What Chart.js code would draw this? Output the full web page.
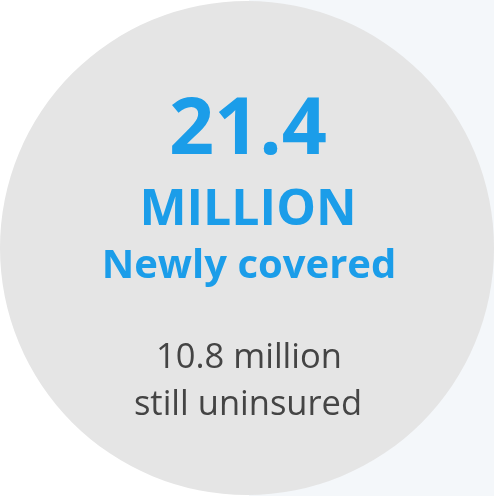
<!DOCTYPE html>
<html>
<head>
<meta charset="utf-8">
<script src="https://cdn.jsdelivr.net/npm/chart.js@4/dist/chart.umd.min.js"></script>
<style>
  html, body { margin: 0; padding: 0; }
  body {
    width: 494px; height: 496px; overflow: hidden;
    background: linear-gradient(to right, #ffffff 0, #ffffff 249px, #f4f7fa 249px, #f4f7fa 100%);
  }
  #wrap { position: relative; width: 494px; height: 496px; }
</style>
</head>
<body>
<div id="wrap"><canvas id="myChart"></canvas></div>
<script>
// data
var categories = ['Newly covered', 'Still uninsured'];
var values = [21.4, 10.8]; // millions
var headlineLabels = ['MILLION', 'Newly covered'];
var subLabels = ['million', 'still uninsured'];

var blue = '#1b9de9';
var grey = '#444444';

// text in the middle of the circle
var centerText = {
  id: 'centerText',
  afterDraw: function (chart) {
    var ctx = chart.ctx;
    var arc = chart.getDatasetMeta(0).data[0];
    var cx = arc.x, cy = arc.y;
    ctx.save();
    ctx.textAlign = 'center';
    ctx.textBaseline = 'alphabetic';

    ctx.fillStyle = blue;
    ctx.font = 'bold 79px "Open Sans"';
    ctx.fillText(values[0].toFixed(1), cx + 1, cy - 94);
    ctx.font = 'bold 50px "Open Sans"';
    ctx.fillText(headlineLabels[0], cx + 1, cy - 23);
    ctx.font = 'bold 40px "Open Sans"';
    ctx.fillText(headlineLabels[1], cx + 2, cy + 30);

    ctx.fillStyle = grey;
    ctx.font = '34.5px "Open Sans"';
    ctx.fillText(values[1].toFixed(1) + ' ' + subLabels[0], cx + 2, cy + 120);
    ctx.fillText(subLabels[1], cx + 1, cy + 167);
    ctx.restore();
  }
};

var $chart = document.getElementById('myChart');
var myPie = new Chart($chart, {
  type: 'pie',
  data: {
    labels: ['Total'],
    datasets: [{
      data: [values[0] + values[1]],
      backgroundColor: '#e5e5e5',
      borderWidth: 0
    }]
  },
  options: {
    responsive: true,
    maintainAspectRatio: false,
    animation: false,
    layout: { padding: 0 },
    plugins: {
      legend: { display: false },
      tooltip: { enabled: false }
    }
  },
  plugins: [centerText]
});
</script>
</body>
</html>
